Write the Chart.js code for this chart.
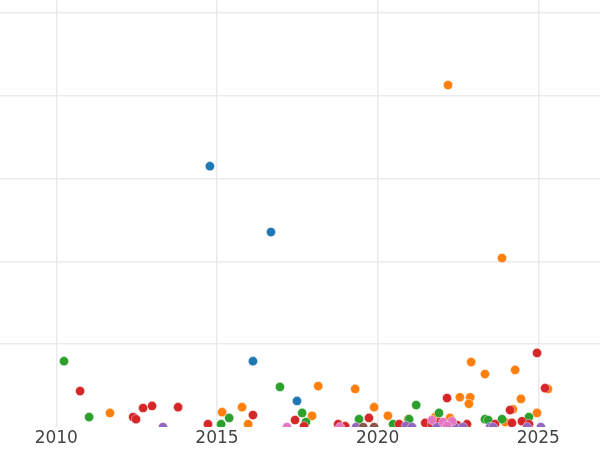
<!DOCTYPE html>
<html>
<head>
<meta charset="utf-8">
<script src="https://cdn.jsdelivr.net/npm/chart.js@4/dist/chart.umd.min.js"></script>
<style>
  html, body { margin: 0; padding: 0; background: #fff; }
  #wrap { width: 600px; height: 450px; position: relative; }
</style>
</head>
<body>
<div id="wrap"><canvas id="chart"></canvas></div>
<script>
// 軸の目盛り
const X_TICKS = [2010, 2015, 2020, 2025];
const Y_TICKS = [20, 40, 60, 80, 100];

// 系列ごとのデータ（年, 値）
const blueYears = [2014.78, 2016.68, 2016.12, 2017.49];
const blueValues = [63.0, 47.1, 15.9, 6.3];

const orangeYears = [2022.19, 2023.87, 2022.91, 2023.34, 2024.28, 2018.15, 2019.30, 2025.30, 2011.67, 2015.16,
    2015.78, 2015.97, 2017.96, 2019.89, 2020.32, 2020.95, 2022.56, 2022.88, 2022.84, 2024.46,
    2024.21, 2024.96, 2021.79, 2022.25, 2023.97];
const orangeValues = [82.6, 40.8, 15.7, 12.8, 13.8, 9.9, 9.2, 9.2, 3.4, 3.6,
    4.8, 0.7, 2.7, 4.8, 2.7, 1.9, 7.2, 7.2, 5.6, 6.8,
    4.3, 3.4, 2.4, 2.2, 1.2];

const greenYears = [2010.24, 2011.02, 2016.96, 2017.65, 2017.77, 2015.38, 2015.13, 2019.42, 2020.48, 2020.98,
    2021.20, 2021.91, 2023.34, 2023.44, 2023.87, 2024.71];
const greenValues = [15.9, 2.4, 9.7, 3.4, 1.2, 2.2, 0.7, 1.9, 0.7, 1.9,
    5.3, 3.4, 1.9, 1.7, 1.9, 2.4];

const redYears = [2010.74, 2012.39, 2012.48, 2012.70, 2012.98, 2013.79, 2014.72, 2016.12, 2017.43, 2017.71,
    2018.77, 2018.99, 2019.73, 2020.67, 2021.48, 2022.16, 2022.47, 2022.78, 2024.96, 2025.21,
    2024.12, 2023.65, 2024.18, 2024.49, 2024.71, 2021.69, 2021.94];
const redValues = [8.7, 2.4, 1.9, 4.6, 5.1, 4.8, 0.7, 2.9, 1.7, 0.2,
    0.7, 0.2, 2.2, 0.7, 1.0, 7.0, 0.5, 0.7, 17.9, 9.4,
    4.1, 0.7, 1.0, 1.4, 0.7, 0.7, 1.2];

const purpleYears = [2013.32, 2019.33, 2020.88, 2021.07, 2021.84, 2022.09, 2022.40, 2022.66, 2023.50, 2023.59,
    2024.65, 2025.08];
const purpleValues = [0, 0, 0.3, 0, 0, 0, 0, 0, 0, 0,
    0, 0];

const brownYears = [2019.55, 2019.89];
const brownValues = [0, 0];

const pinkYears = [2017.18, 2018.83, 2021.69, 2022.04, 2022.32, 2022.16];
const pinkValues = [0, 0, 1.7, 1.2, 1.4, 0.3];

const SERIES_NAMES = ['A', 'B', 'C', 'D', 'E', 'F', 'G'];
const SERIES_YEARS = [blueYears, orangeYears, greenYears, redYears, purpleYears, brownYears, pinkYears];
const SERIES_VALUES = [blueValues, orangeValues, greenValues, redValues, purpleValues, brownValues, pinkValues];
const COLORS = ['#1f77b4', '#ff7f0e', '#2ca02c', '#d62728', '#9467bd', '#8c564b', '#e377c2'];

const datasets = SERIES_NAMES.map((name, i) => ({
    label: name,
    data: SERIES_YEARS[i].map((yr, j) => ({ x: yr, y: SERIES_VALUES[i][j] })),
    backgroundColor: COLORS[i],
    borderColor: 'rgba(255,255,255,0.8)',
    borderWidth: 0.5,
    pointRadius: 4.6,
    pointHoverRadius: 4.6,
    clip: 0,
    // 後の系列を上に描く
    order: SERIES_NAMES.length - i
}));

new Chart(document.getElementById('chart'), {
    type: 'scatter',
    data: { datasets },
    options: {
        responsive: true,
        maintainAspectRatio: false,
        animation: false,
        layout: { padding: 0, autoPadding: false },
        plugins: {
            legend: { display: false },
            tooltip: { enabled: false }
        },
        scales: {
            x: {
                type: 'linear',
                min: 2008.248,
                max: 2026.92,
                afterBuildTicks: axis => { axis.ticks = X_TICKS.map(v => ({ value: v })); },
                grid: { color: '#ebebeb', lineWidth: 1.5, drawTicks: false },
                border: { display: false },
                ticks: {
                    padding: 0,
                    color: '#444',
                    font: { family: 'DejaVu Sans', size: 17, lineHeight: 1.35 },
                    callback: v => String(v),
                    maxRotation: 0
                }
            },
            y: {
                type: 'linear',
                min: 0,
                max: 103.14,
                afterBuildTicks: axis => { axis.ticks = Y_TICKS.map(v => ({ value: v })); },
                grid: { color: '#ebebeb', lineWidth: 1.5, drawTicks: false },
                border: { display: false },
                ticks: { display: false }
            }
        }
    }
});
</script>
</body>
</html>
